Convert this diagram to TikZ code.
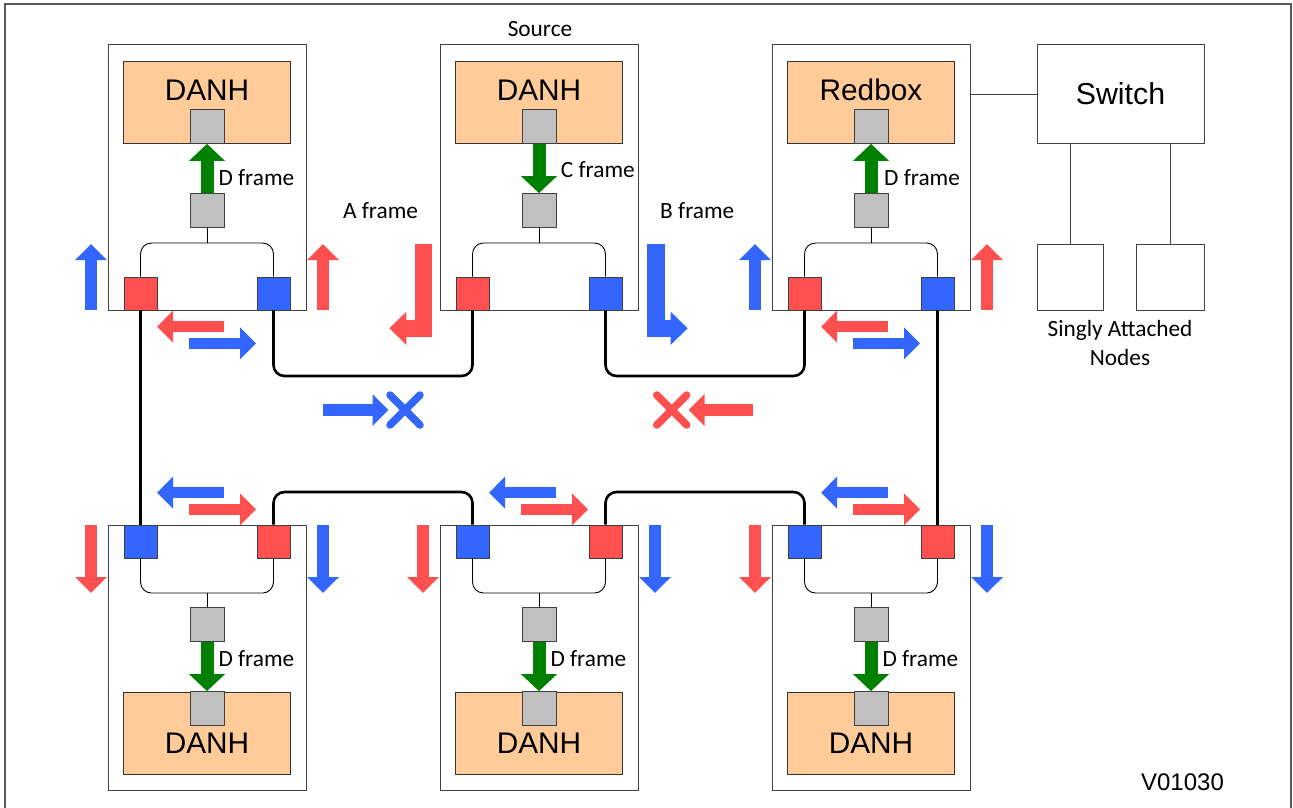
\documentclass[tikz,border=0pt]{standalone}
\usepackage{fontspec}
\setmainfont{Carlito}
\newfontfamily\arialf{Liberation Sans}
\usetikzlibrary{arrows.meta}
\definecolor{rd}{HTML}{FF5050}
\definecolor{bl}{HTML}{3366FF}
\definecolor{gr}{HTML}{008000}
\definecolor{org}{HTML}{FFCC99}
\definecolor{gry}{HTML}{C0C0C0}
\definecolor{edge}{HTML}{404040}
\begin{document}
\begin{tikzpicture}[x=1pt,y=-1pt,
  nodebox/.style={draw=edge, line width=1pt, fill=white, minimum width=198pt, inner sep=0},
  topbox/.style={nodebox, minimum height=266pt},
  botbox/.style={nodebox, minimum height=265pt},
  host/.style={draw=black!80, line width=1pt, fill=org, minimum width=167pt, minimum height=82pt, inner sep=0},
  gsq/.style={draw=edge, line width=0.8pt, fill=gry, minimum size=34pt, inner sep=0},
  rport/.style={draw=edge, line width=0.8pt, fill=rd, minimum size=33pt, inner sep=0},
  bport/.style={draw=edge, line width=0.8pt, fill=bl, minimum size=33pt, inner sep=0},
  big/.style={font=\arialf\fontsize{29.8}{35}\selectfont, inner sep=0},
  lbl/.style={font=\fontsize{23.3}{28.7}\selectfont, inner sep=0},
  link/.style={line width=2.6pt, rounded corners=11pt},
  bus/.style={line width=0.9pt, rounded corners=11pt},
  blk/.style={line width=11.5pt, -{Triangle[width=31pt,length=16pt]}},
  gblk/.style={draw=gr, line width=13pt, -{Triangle[width=35pt,length=17pt]}},
  xmark/.style={line width=7.5pt, line cap=round},
  plain/.style={draw=edge, line width=1pt, inner sep=0},
]
\useasboundingbox (0,0) rectangle (1293,807);
\draw[line width=2pt, draw=black!65] (5,812) -- (5,4) -- (1291,4) -- (1291,812);

% top nodes
\foreach \n/\cx/\txt in {tl/207/DANH, tm/539/DANH, tr/871/Redbox} {
  \node[topbox] (\n) at (\cx,177) {};
  \node[host] (\n-h) at (\cx,102.5) {};
  \node[big] at (\cx,90) {\txt};
  \node[gsq] (\n-g1) at (\cx,126.5) {};
  \node[gsq] (\n-g2) at (\cx,210.5) {};
  \node[rport] (\n-r) at (\cx-66.5,293.5) {};
  \node[bport] (\n-b) at (\cx+66.5,293.5) {};
  \coordinate (\n-bus) at (\cx,243);
  \draw[bus] (\n-r.north) -- (\n-r.north |- \n-bus) -- (\n-b.north |- \n-bus) -- (\n-b.north);
  \draw[line width=0.9pt] (\n-g2.south) -- (\n-bus);
}
\draw[gblk] (tl-g2.north) -- (tl-g1.south);
\draw[gblk] (tr-g2.north) -- (tr-g1.south);
\draw[gblk] (tm-g1.south) -- (tm-g2.north);
\node[lbl, anchor=west] at (218.3,177.7) {D frame};
\node[lbl, anchor=west] at (884,177.7) {D frame};
\node[lbl, anchor=west] at (560.7,169.3) {C frame};
\node[lbl] at (540,29) {Source};

\foreach \cx in {207, 871} {
  \draw[blk, draw=bl] (\cx-116,310) -- ++(0,-66);
  \draw[blk, draw=rd] (\cx+116,310) -- ++(0,-66);
  \draw[blk, draw=rd] (\cx+17,326.7) -- ++(-67,0);
  \draw[blk, draw=bl] (\cx-18,343.3) -- ++(67,0);
}

% bottom nodes
\foreach \n/\cx in {bl/207, bm/539, br/871} {
  \node[botbox] (\n) at (\cx,657.5) {};
  \node[host] (\n-h) at (\cx,733.5) {};
  \node[big] at (\cx,743) {DANH};
  \node[gsq] (\n-g1) at (\cx,708.5) {};
  \node[gsq] (\n-g2) at (\cx,624.5) {};
  \node[bport] (\n-b) at (\cx-66.5,541.5) {};
  \node[rport] (\n-r) at (\cx+66.5,541.5) {};
  \coordinate (\n-bus) at (\cx,593);
  \draw[bus] (\n-b.south) -- (\n-b.south |- \n-bus) -- (\n-r.south |- \n-bus) -- (\n-r.south);
  \draw[line width=0.9pt] (\n-g2.north) -- (\n-bus);
  \draw[gblk] (\n-g2.south) -- (\n-g1.north);
  \node[lbl, anchor=west] at (\cx+11.3,659) {D frame};
  \draw[blk, draw=rd] (\cx-116,525) -- ++(0,68);
  \draw[blk, draw=bl] (\cx+116,525) -- ++(0,68);
  \draw[blk, draw=bl] (\cx+17,492.7) -- ++(-67,0);
  \draw[blk, draw=rd] (\cx-18,509.3) -- ++(67,0);
}

% ring links
\coordinate (ylow) at (0,376);
\coordinate (yhigh) at (0,492);
\draw[link] (tl-r.south) -- (bl-b.north);
\draw[link] (tl-b.south) -- (tl-b.south |- ylow) -- (tm-r.south |- ylow) -- (tm-r.south);
\draw[link] (tm-b.south) -- (tm-b.south |- ylow) -- (tr-r.south |- ylow) -- (tr-r.south);
\draw[link] (tr-b.south) -- (br-r.north);
\draw[link] (bl-r.north) -- (bl-r.north |- yhigh) -- (bm-b.north |- yhigh) -- (bm-b.north);
\draw[link] (bm-r.north) -- (bm-r.north |- yhigh) -- (br-b.north |- yhigh) -- (br-b.north);

% A and B frames
\draw[draw=rd, line width=17.5pt, line join=miter, -{Triangle[width=32pt,length=17pt]}]
  (423.5,244.3) -- (423.5,328.3) -- (389.3,328.3);
\draw[draw=bl, line width=17.5pt, line join=miter, -{Triangle[width=32pt,length=17pt]}]
  (656.2,244.3) -- (656.2,328.3) -- (687.7,328.3);
\node[lbl] at (380.5,210.7) {A frame};
\node[lbl, anchor=west] at (660,210.7) {B frame};

% blocked frames
\draw[blk, draw=bl] (323,410) -- (388.5,410);
\draw[xmark, draw=bl] (390,395) -- (420,425);
\draw[xmark, draw=bl] (390,425) -- (420,395);
\draw[blk, draw=rd] (753,410) -- (688.5,410);
\draw[xmark, draw=rd] (656.7,395) -- (686.7,425);
\draw[xmark, draw=rd] (656.7,425) -- (686.7,395);

% switch and singly attached nodes
\node[plain, minimum width=167pt, minimum height=98.6pt, font=\arialf\fontsize{30.3}{36}\selectfont] (sw) at (1120.5,94) {Switch};
\node[plain, minimum width=66pt, minimum height=66pt] (sa1) at (1070.2,277.2) {};
\node[plain, minimum width=68pt, minimum height=66pt] (sa2) at (1170.2,277.2) {};
\draw[draw=edge, line width=1pt] (sw.west) -- (sw.west -| tr.east);
\draw[draw=edge, line width=1pt] (sa1.north) -- (sa1.north |- sw.south);
\draw[draw=edge, line width=1pt] (sa2.north) -- (sa2.north |- sw.south);
\node[lbl, align=center] at (1120,343) {Singly Attached\\Nodes};

\node[font=\arialf\fontsize{24}{29}\selectfont, inner sep=0] at (1182.5,782.3) {V01030};
\end{tikzpicture}
\end{document}
